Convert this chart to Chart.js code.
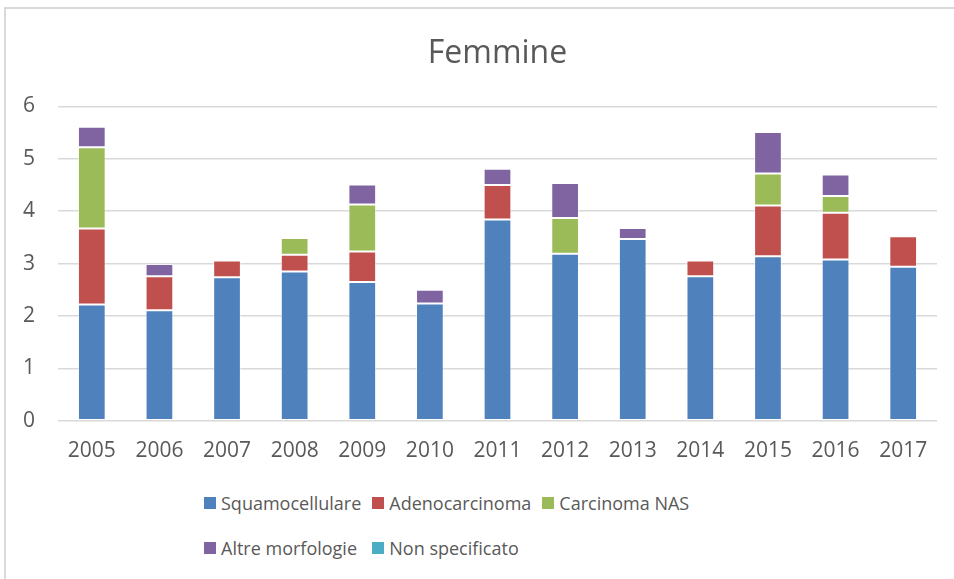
<!DOCTYPE html>
<html>
<head>
<meta charset="utf-8">
<script src="https://cdn.jsdelivr.net/npm/chart.js@4"></script>
<style>
  body { margin: 0; width: 954px; height: 579px; overflow: hidden; background: #fff; font-family: "Open Sans", sans-serif; position: relative; }
  #frame { position: absolute; left: 4px; top: 7px; width: 1000px; height: 1000px; border: 2px solid #d9d9d9; box-sizing: border-box; }
  #grafico { position: absolute; left: 0; top: 0; }
  #legenda { position: absolute; left: 204px; top: 490px; display: grid; grid-template-columns: auto auto auto; row-gap: 19px; column-gap: 11px; color: #595959; font-size: 18px; }
  #legenda div { display: flex; align-items: center; white-space: nowrap; line-height: 26px; }
  #legenda span.box { width: 12px; height: 12px; margin-right: 5px; display: inline-block; }
</style>
</head>
<body>
<div id="frame"></div>
<canvas id="grafico" width="954" height="482"></canvas>
<div id="legenda"></div>
<script>
const anni = ["2005", "2006", "2007", "2008", "2009", "2010", "2011", "2012", "2013", "2014", "2015", "2016", "2017"];
const squamocellulare = [2.22, 2.11, 2.74, 2.85, 2.65, 2.24, 3.84, 3.19, 3.47, 2.76, 3.14, 3.08, 2.94];
const adenocarcinoma  = [1.45, 0.65, 0.32, 0.32, 0.58, 0,    0.66, 0,    0,    0.30, 0.97, 0.89, 0.58];
const carcinomaNas    = [1.55, 0,    0,    0.32, 0.90, 0,    0,    0.68, 0,    0,    0.61, 0.32, 0];
const altreMorfologie = [0.39, 0.23, 0,    0,    0.38, 0.26, 0.31, 0.67, 0.21, 0,    0.79, 0.41, 0];
const nonSpecificato  = [0,    0,    0,    0,    0,    0,    0,    0,    0,    0,    0,    0,    0];
const tickY = [0, 1, 2, 3, 4, 5, 6];

const serie = [
  { label: "Squamocellulare", data: squamocellulare, colore: "#4f81bd" },
  { label: "Adenocarcinoma", data: adenocarcinoma, colore: "#c0504d" },
  { label: "Carcinoma NAS", data: carcinomaNas, colore: "#9bbb59" },
  { label: "Altre morfologie", data: altreMorfologie, colore: "#8064a2" },
  { label: "Non specificato", data: nonSpecificato, colore: "#4bacc6" },
];

const grigio = "#595959";

// legenda html: Chart.js non va a capo come Excel
const legenda = document.getElementById("legenda");
serie.forEach(s => {
  const div = document.createElement("div");
  div.innerHTML = `<span class="box" style="background:${s.colore}"></span>${s.label}`;
  legenda.appendChild(div);
});

new Chart(document.getElementById("grafico"), {
  type: "bar",
  data: {
    labels: anni,
    datasets: serie.map(s => ({
      label: s.label,
      data: s.data,
      backgroundColor: s.colore,
      borderColor: "rgba(255,255,255,0.45)",
      borderWidth: s.label === "Non specificato" ? 0 : 1,
      borderSkipped: false,
      barPercentage: 0.41,
      categoryPercentage: 1
    }))
  },
  options: {
    responsive: false,
    animation: false,
    layout: { padding: { left: 0, right: 17, top: 0, bottom: 0 } },
    plugins: {
      legend: { display: false },
      tooltip: { enabled: false },
      title: {
        display: true,
        fullSize: false,
        text: "Femmine",
        color: grigio,
        font: { family: "Open Sans", size: 32, weight: "normal" },
        padding: { top: 35, bottom: 33 }
      }
    },
    scales: {
      x: {
        stacked: true,
        grid: { display: false, drawTicks: false },
        border: { display: false },
        ticks: { color: grigio, font: { family: "Open Sans", size: 21 }, padding: 18, maxRotation: 0 }
      },
      y: {
        stacked: true,
        min: 0,
        max: 6,
        afterBuildTicks: scale => { scale.ticks = tickY.map(v => ({ value: v })); },
        grid: { color: "#d9d9d9", lineWidth: 1.5, drawTicks: false },
        border: { display: false },
        ticks: { color: grigio, font: { family: "Open Sans", size: 21 }, padding: 23 }
      }
    }
  }
});
</script>
</body>
</html>
